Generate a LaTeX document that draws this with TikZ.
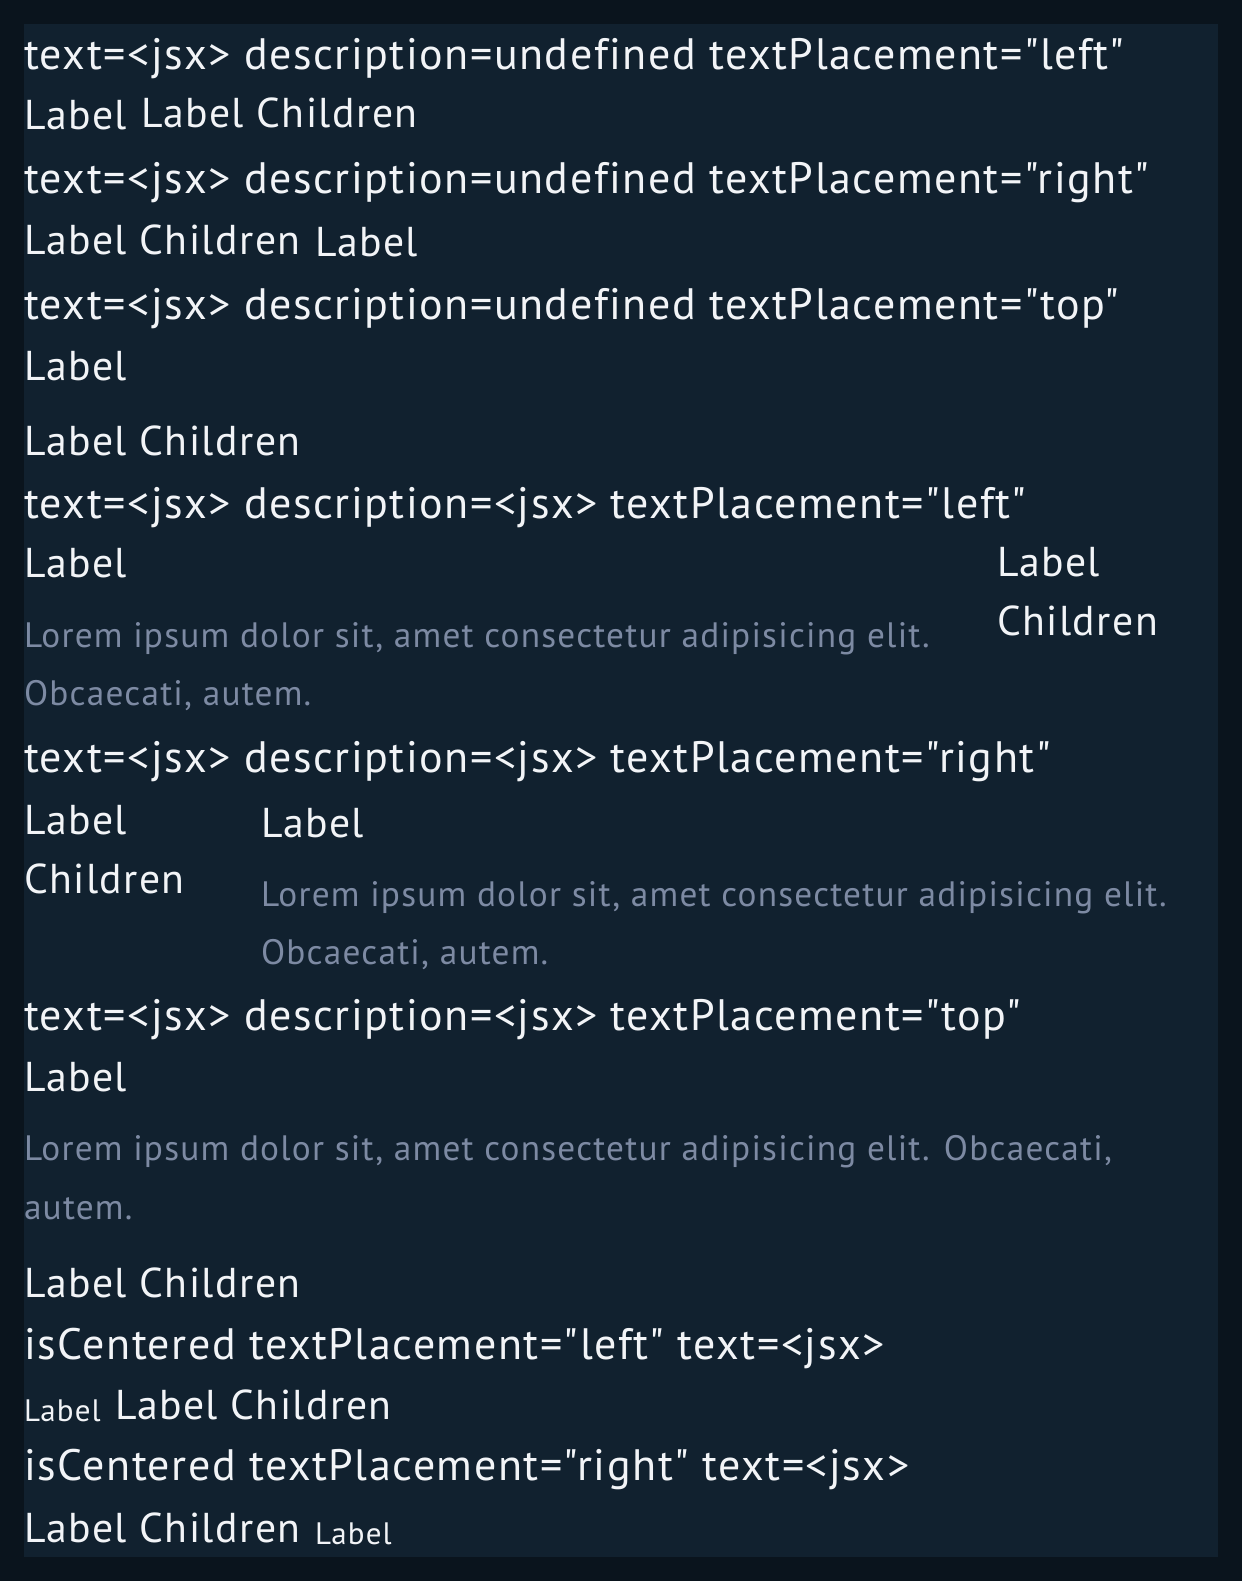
\documentclass[tikz,border=0pt]{standalone}
\usepackage{fontspec}
\setmainfont{PT Sans}[Ligatures={TeXOff,CommonOff},LetterSpace=3.5]
\definecolor{outerbg}{HTML}{0A141D}
\definecolor{panelbg}{HTML}{11212F}
\definecolor{fgwhite}{HTML}{F2F4F7}
\definecolor{fggray}{HTML}{7D8AA3}
\begin{document}
\begin{tikzpicture}[x=1bp,y=-1bp,
  txt/.style={anchor=base west,inner sep=0pt,outer sep=0pt,text=fgwhite},
  head/.style={txt,font=\fontsize{44bp}{50bp}\selectfont},
  lbl/.style={txt,font=\fontsize{41.7bp}{48bp}\selectfont},
  small/.style={txt,font=\fontsize{31bp}{36bp}\selectfont},
  desc/.style={txt,text=fggray,font=\fontsize{35.3bp}{40bp}\selectfont}]
\useasboundingbox (0,0) rectangle (1242,1581);
\fill[outerbg] (0,0) rectangle (1242,1581);
\fill[panelbg] (24,24) rectangle (1218,1557);
% block 1
\node[head] (h1) at (24,70) {text=<jsx> description=undefined textPlacement="left"};
\node[lbl] (a1) at (24,130) {Label};
\node[lbl] (b1) at (141,128) {Label Children};
% block 2
\node[head] (h2) at (24,193) {text=<jsx> description=undefined textPlacement="right"};
\node[lbl] (a2) at (24,254) {Label Children};
\node[lbl] (b2) at (315,256) {Label};
% block 3
\node[head] (h3) at (24,319) {text=<jsx> description=undefined textPlacement="top"};
\node[lbl] (a3) at (24,380) {Label};
\node[lbl] (b3) at (24,455) {Label Children};
% block 4
\node[head] (h4) at (24,518) {text=<jsx> description=<jsx> textPlacement="left"};
\node[lbl] (a4) at (24,577) {Label};
\node[desc] (d4a) at (24,647) {Lorem ipsum dolor sit, amet consectetur adipisicing elit.};
\node[desc] (d4b) at (24,705) {Obcaecati, autem.};
\node[lbl] (c4a) at (997,576) {Label};
\node[lbl] (c4b) at (997,635) {Children};
% block 5
\node[head] (h5) at (24,772) {text=<jsx> description=<jsx> textPlacement="right"};
\node[lbl] (a5) at (24,834) {Label};
\node[lbl] (b5) at (24,893) {Children};
\node[lbl] (c5) at (261,837) {Label};
\node[desc] (d5a) at (261,906) {Lorem ipsum dolor sit, amet consectetur adipisicing elit.};
\node[desc] (d5b) at (261,964) {Obcaecati, autem.};
% block 6
\node[head] (h6) at (24,1030) {text=<jsx> description=<jsx> textPlacement="top"};
\node[lbl] (a6) at (24,1091) {Label};
\node[desc] (d6a) at (24,1160) {Lorem ipsum dolor sit, amet consectetur adipisicing elit. Obcaecati,};
\node[desc] (d6b) at (24,1219) {autem.};
\node[lbl] (b6) at (24,1297) {Label Children};
% block 7
\node[head] (h7) at (24,1359) {isCentered textPlacement="left" text=<jsx>};
\node[small] (a7) at (24,1421) {Label};
\node[lbl] (b7) at (115,1419) {Label Children};
% block 8
\node[head] (h8) at (24,1480) {isCentered textPlacement="right" text=<jsx>};
\node[lbl] (a8) at (24,1542) {Label Children};
\node[small] (b8) at (315,1544) {Label};
\end{tikzpicture}
\end{document}
